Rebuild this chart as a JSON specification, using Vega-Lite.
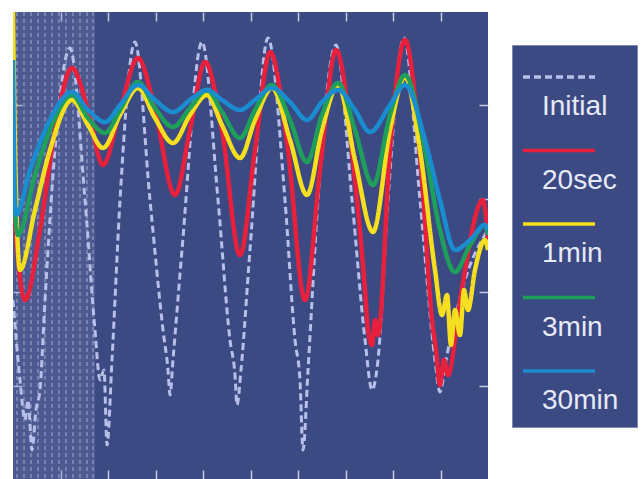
{
  "$schema": "https://vega.github.io/schema/vega-lite/v6.json",
  "width": 475,
  "height": 467,
  "autosize": "none",
  "padding": {"left": 13, "top": 12, "right": 153, "bottom": 0},
  "background": "white",
  "view": {"stroke": null, "fill": "#3c4a84"},
  "config": {
    "view": {"stroke": null, "fill": "#3c4a84"},
    "axis": {"domain": false, "labels": false, "title": null, "grid": false, "ticks": true, "tickSize": -9, "tickColor": "#c5cae6", "tickWidth": 1.5}
  },
  "datasets": {
    "hatchArea": [{"x0": 0, "x1": 1.73}],
    "hatchLines": [{"x": 0.084}, {"x": 0.232}, {"x": 0.379}, {"x": 0.526}, {"x": 0.674}, {"x": 0.821}, {"x": 0.968}, {"x": 1.116}, {"x": 1.263}, {"x": 1.411}, {"x": 1.558}, {"x": 1.684}],
    "legendLabels": [{"lab": "Initial"}, {"lab": "20sec"}, {"lab": "1min"}, {"lab": "3min"}, {"lab": "30min"}],
    "curves": [
      {"s": "Initial", "x": 0, "y": 1.916}, {"s": "Initial", "x": 0.147, "y": 1.06}, {"s": "Initial", "x": 0.253, "y": 0.632}, {"s": "Initial", "x": 0.316, "y": 0.846}, {"s": "Initial", "x": 0.4, "y": 0.31}, {"s": "Initial", "x": 0.484, "y": 0.739}, {"s": "Initial", "x": 0.568, "y": 0.953}, {"s": "Initial", "x": 0.674, "y": 1.916}, {"s": "Initial", "x": 0.884, "y": 3.522}, {"s": "Initial", "x": 1.2, "y": 4.615}, {"s": "Initial", "x": 1.516, "y": 2.987}, {"s": "Initial", "x": 1.726, "y": 1.595}, {"s": "Initial", "x": 1.832, "y": 1.06}, {"s": "Initial", "x": 1.916, "y": 1.167}, {"s": "Initial", "x": 1.979, "y": 0.364}, {"s": "Initial", "x": 2.084, "y": 1.274}, {"s": "Initial", "x": 2.253, "y": 2.987}, {"s": "Initial", "x": 2.568, "y": 4.679}, {"s": "Initial", "x": 2.884, "y": 2.987}, {"s": "Initial", "x": 3.158, "y": 1.595}, {"s": "Initial", "x": 3.263, "y": 1.167}, {"s": "Initial", "x": 3.305, "y": 0.899}, {"s": "Initial", "x": 3.368, "y": 1.274}, {"s": "Initial", "x": 3.558, "y": 2.452}, {"s": "Initial", "x": 3.979, "y": 4.679}, {"s": "Initial", "x": 4.316, "y": 2.987}, {"s": "Initial", "x": 4.568, "y": 1.488}, {"s": "Initial", "x": 4.674, "y": 1.113}, {"s": "Initial", "x": 4.716, "y": 0.792}, {"s": "Initial", "x": 4.8, "y": 1.167}, {"s": "Initial", "x": 4.989, "y": 2.452}, {"s": "Initial", "x": 5.368, "y": 4.722}, {"s": "Initial", "x": 5.726, "y": 2.987}, {"s": "Initial", "x": 5.937, "y": 1.488}, {"s": "Initial", "x": 6.042, "y": 1.06}, {"s": "Initial", "x": 6.105, "y": 0.31}, {"s": "Initial", "x": 6.211, "y": 1.167}, {"s": "Initial", "x": 6.421, "y": 2.987}, {"s": "Initial", "x": 6.8, "y": 4.647}, {"s": "Initial", "x": 7.137, "y": 2.987}, {"s": "Initial", "x": 7.411, "y": 1.488}, {"s": "Initial", "x": 7.558, "y": 0.953}, {"s": "Initial", "x": 7.684, "y": 1.274}, {"s": "Initial", "x": 7.895, "y": 2.987}, {"s": "Initial", "x": 8.232, "y": 4.722}, {"s": "Initial", "x": 8.568, "y": 2.987}, {"s": "Initial", "x": 8.884, "y": 1.274}, {"s": "Initial", "x": 8.989, "y": 0.931}, {"s": "Initial", "x": 9.116, "y": 1.274}, {"s": "Initial", "x": 9.516, "y": 2.131}, {"s": "Initial", "x": 10, "y": 2.666},

      {"s": "20sec", "x": 0, "y": 2.987}, {"s": "20sec", "x": 0.253, "y": 1.916}, {"s": "20sec", "x": 0.568, "y": 2.666}, {"s": "20sec", "x": 0.884, "y": 3.737}, {"s": "20sec", "x": 1.242, "y": 4.4}, {"s": "20sec", "x": 1.579, "y": 3.951}, {"s": "20sec", "x": 1.895, "y": 3.362}, {"s": "20sec", "x": 2.253, "y": 3.951}, {"s": "20sec", "x": 2.632, "y": 4.507}, {"s": "20sec", "x": 2.989, "y": 3.951}, {"s": "20sec", "x": 3.411, "y": 3.041}, {"s": "20sec", "x": 3.726, "y": 3.737}, {"s": "20sec", "x": 4.042, "y": 4.465}, {"s": "20sec", "x": 4.4, "y": 3.737}, {"s": "20sec", "x": 4.779, "y": 2.398}, {"s": "20sec", "x": 5.095, "y": 3.522}, {"s": "20sec", "x": 5.411, "y": 4.572}, {"s": "20sec", "x": 5.789, "y": 3.522}, {"s": "20sec", "x": 6.147, "y": 1.916}, {"s": "20sec", "x": 6.463, "y": 3.308}, {"s": "20sec", "x": 6.8, "y": 4.593}, {"s": "20sec", "x": 7.2, "y": 3.201}, {"s": "20sec", "x": 7.411, "y": 2.024}, {"s": "20sec", "x": 7.474, "y": 1.595}, {"s": "20sec", "x": 7.558, "y": 1.435}, {"s": "20sec", "x": 7.621, "y": 1.702}, {"s": "20sec", "x": 7.684, "y": 1.542}, {"s": "20sec", "x": 7.937, "y": 3.522}, {"s": "20sec", "x": 8.253, "y": 4.7}, {"s": "20sec", "x": 8.611, "y": 3.201}, {"s": "20sec", "x": 8.821, "y": 1.702}, {"s": "20sec", "x": 8.905, "y": 1.381}, {"s": "20sec", "x": 8.989, "y": 1.006}, {"s": "20sec", "x": 9.074, "y": 1.274}, {"s": "20sec", "x": 9.158, "y": 1.113}, {"s": "20sec", "x": 9.411, "y": 1.916}, {"s": "20sec", "x": 9.895, "y": 2.987}, {"s": "20sec", "x": 10, "y": 2.559},

      {"s": "1min", "x": 0, "y": 5.0}, {"s": "1min", "x": 0.042, "y": 3.522}, {"s": "1min", "x": 0.147, "y": 2.238}, {"s": "1min", "x": 0.463, "y": 2.88}, {"s": "1min", "x": 0.779, "y": 3.522}, {"s": "1min", "x": 1.242, "y": 4.058}, {"s": "1min", "x": 1.579, "y": 3.79}, {"s": "1min", "x": 1.895, "y": 3.544}, {"s": "1min", "x": 2.253, "y": 3.897}, {"s": "1min", "x": 2.632, "y": 4.186}, {"s": "1min", "x": 2.989, "y": 3.865}, {"s": "1min", "x": 3.368, "y": 3.597}, {"s": "1min", "x": 3.726, "y": 3.897}, {"s": "1min", "x": 4.084, "y": 4.111}, {"s": "1min", "x": 4.4, "y": 3.79}, {"s": "1min", "x": 4.779, "y": 3.437}, {"s": "1min", "x": 5.095, "y": 3.844}, {"s": "1min", "x": 5.453, "y": 4.186}, {"s": "1min", "x": 5.832, "y": 3.63}, {"s": "1min", "x": 6.189, "y": 3.041}, {"s": "1min", "x": 6.505, "y": 3.737}, {"s": "1min", "x": 6.842, "y": 4.218}, {"s": "1min", "x": 7.2, "y": 3.415}, {"s": "1min", "x": 7.579, "y": 2.645}, {"s": "1min", "x": 7.937, "y": 3.737}, {"s": "1min", "x": 8.253, "y": 4.304}, {"s": "1min", "x": 8.568, "y": 3.522}, {"s": "1min", "x": 8.884, "y": 2.238}, {"s": "1min", "x": 9.032, "y": 1.756}, {"s": "1min", "x": 9.137, "y": 1.97}, {"s": "1min", "x": 9.221, "y": 1.435}, {"s": "1min", "x": 9.305, "y": 1.809}, {"s": "1min", "x": 9.411, "y": 1.542}, {"s": "1min", "x": 9.495, "y": 2.024}, {"s": "1min", "x": 9.579, "y": 1.809}, {"s": "1min", "x": 9.726, "y": 2.238}, {"s": "1min", "x": 9.937, "y": 2.559}, {"s": "1min", "x": 10, "y": 2.452},

      {"s": "3min", "x": 0, "y": 3.201}, {"s": "3min", "x": 0.105, "y": 2.612}, {"s": "3min", "x": 0.463, "y": 3.255}, {"s": "3min", "x": 0.779, "y": 3.737}, {"s": "3min", "x": 1.242, "y": 4.111}, {"s": "3min", "x": 1.579, "y": 3.865}, {"s": "3min", "x": 1.937, "y": 3.704}, {"s": "3min", "x": 2.253, "y": 3.951}, {"s": "3min", "x": 2.632, "y": 4.251}, {"s": "3min", "x": 2.989, "y": 3.972}, {"s": "3min", "x": 3.368, "y": 3.769}, {"s": "3min", "x": 3.726, "y": 3.972}, {"s": "3min", "x": 4.084, "y": 4.165}, {"s": "3min", "x": 4.4, "y": 3.929}, {"s": "3min", "x": 4.779, "y": 3.651}, {"s": "3min", "x": 5.095, "y": 3.951}, {"s": "3min", "x": 5.453, "y": 4.218}, {"s": "3min", "x": 5.832, "y": 3.844}, {"s": "3min", "x": 6.189, "y": 3.394}, {"s": "3min", "x": 6.505, "y": 3.897}, {"s": "3min", "x": 6.842, "y": 4.24}, {"s": "3min", "x": 7.2, "y": 3.737}, {"s": "3min", "x": 7.579, "y": 3.148}, {"s": "3min", "x": 7.937, "y": 3.897}, {"s": "3min", "x": 8.253, "y": 4.325}, {"s": "3min", "x": 8.674, "y": 3.522}, {"s": "3min", "x": 8.989, "y": 2.666}, {"s": "3min", "x": 9.305, "y": 2.216}, {"s": "3min", "x": 9.621, "y": 2.505}, {"s": "3min", "x": 9.937, "y": 2.719}, {"s": "3min", "x": 10, "y": 2.612},

      {"s": "30min", "x": 0, "y": 4.486}, {"s": "30min", "x": 0.021, "y": 3.522}, {"s": "30min", "x": 0.063, "y": 2.827}, {"s": "30min", "x": 0.358, "y": 3.308}, {"s": "30min", "x": 0.779, "y": 3.844}, {"s": "30min", "x": 1.242, "y": 4.143}, {"s": "30min", "x": 1.579, "y": 3.951}, {"s": "30min", "x": 1.937, "y": 3.822}, {"s": "30min", "x": 2.253, "y": 4.004}, {"s": "30min", "x": 2.632, "y": 4.218}, {"s": "30min", "x": 2.989, "y": 4.058}, {"s": "30min", "x": 3.368, "y": 3.929}, {"s": "30min", "x": 3.726, "y": 4.058}, {"s": "30min", "x": 4.084, "y": 4.165}, {"s": "30min", "x": 4.4, "y": 4.058}, {"s": "30min", "x": 4.779, "y": 3.951}, {"s": "30min", "x": 5.095, "y": 4.058}, {"s": "30min", "x": 5.453, "y": 4.186}, {"s": "30min", "x": 5.832, "y": 4.036}, {"s": "30min", "x": 6.189, "y": 3.844}, {"s": "30min", "x": 6.505, "y": 4.036}, {"s": "30min", "x": 6.842, "y": 4.165}, {"s": "30min", "x": 7.2, "y": 3.951}, {"s": "30min", "x": 7.516, "y": 3.715}, {"s": "30min", "x": 7.937, "y": 4.004}, {"s": "30min", "x": 8.253, "y": 4.218}, {"s": "30min", "x": 8.674, "y": 3.63}, {"s": "30min", "x": 8.989, "y": 2.987}, {"s": "30min", "x": 9.305, "y": 2.452}, {"s": "30min", "x": 9.621, "y": 2.559}, {"s": "30min", "x": 9.937, "y": 2.719}, {"s": "30min", "x": 10, "y": 2.666}
    ]
  },
  "layer": [
    {
      "data": {"name": "hatchArea"},
      "mark": {"type": "rect", "color": "#7a86b4", "opacity": 0.28},
      "encoding": {
        "x": {"field": "x0", "type": "quantitative", "scale": {"domain": [0, 10], "nice": false, "zero": false}, "axis": {"orient": "bottom", "values": [1, 2, 3, 4, 5, 6, 7, 8, 9]}},
        "x2": {"field": "x1"}
      }
    },
    {
      "data": {"name": "hatchLines"},
      "mark": {"type": "rule", "color": "#c8cde8", "opacity": 0.35, "strokeWidth": 2, "strokeDash": [4, 3]},
      "encoding": {
        "x": {"field": "x", "type": "quantitative", "scale": {"domain": [0, 10], "nice": false, "zero": false}, "axis": {"orient": "top", "values": [1, 2, 3, 4, 5, 6, 7, 8, 9]}}
      }
    },
    {
      "data": {"name": "curves"},
      "transform": [{"filter": "datum.s === 'Initial'"}],
      "mark": {"type": "line", "strokeWidth": 3, "interpolate": "monotone", "clip": true},
      "encoding": {
        "x": {"field": "x", "type": "quantitative", "scale": {"domain": [0, 10], "nice": false, "zero": false}, "axis": null},
        "y": {"field": "y", "type": "quantitative", "scale": {"domain": [0, 5], "nice": false, "zero": false}, "axis": {"orient": "left", "values": [1, 2, 3, 4]}},
        "color": {"field": "s", "type": "nominal", "scale": {"domain": ["Initial", "20sec", "1min", "3min", "30min"], "range": ["#b8bfe8", "#e8203c", "#f5df1e", "#1ea05a", "#1a8cd0"]},
          "legend": {"title": " ", "titleOrient": "bottom", "titleFontSize": 14, "titlePadding": 10, "orient": "none", "legendX": 499, "legendY": 33, "padding": 18, "zindex": 1,
            "fillColor": "#3c4a84", "strokeColor": "#8088b0", "symbolType": "M-1.75,0H4.25", "symbolSize": 576, "symbolStrokeWidth": 3.5,
            "labelFont": "Liberation Sans", "labelFontSize": 28, "labelOpacity": 0, "labelBaseline": "middle",
            "labelOffset": -16, "rowPadding": 45.5, "labelLimit": 300}},
        "strokeDash": {"field": "s", "type": "nominal", "scale": {"domain": ["Initial", "20sec", "1min", "3min", "30min"], "range": [[7, 4], [1, 0], [1, 0], [1, 0], [1, 0]]},
          "legend": {"title": " "}}
      }
    },
    {
      "data": {"name": "curves"},
      "transform": [{"filter": "datum.s === '20sec'"}],
      "mark": {"type": "line", "strokeWidth": 4.5, "interpolate": "monotone", "clip": true},
      "encoding": {
        "x": {"field": "x", "type": "quantitative", "axis": null},
        "y": {"field": "y", "type": "quantitative", "axis": {"orient": "right", "values": [1, 2, 3, 4]}},
        "color": {"field": "s", "type": "nominal", "legend": {"title": " "}},
        "strokeDash": {"field": "s", "type": "nominal", "legend": {"title": " "}}
      }
    },
    {
      "data": {"name": "curves"},
      "transform": [{"filter": "datum.s === '1min'"}],
      "mark": {"type": "line", "strokeWidth": 4.5, "interpolate": "monotone", "clip": true},
      "encoding": {
        "x": {"field": "x", "type": "quantitative", "axis": null},
        "y": {"field": "y", "type": "quantitative", "axis": null},
        "color": {"field": "s", "type": "nominal", "legend": {"title": " "}},
        "strokeDash": {"field": "s", "type": "nominal", "legend": {"title": " "}}
      }
    },
    {
      "data": {"name": "curves"},
      "transform": [{"filter": "datum.s === '3min'"}],
      "mark": {"type": "line", "strokeWidth": 4.5, "interpolate": "monotone", "clip": true},
      "encoding": {
        "x": {"field": "x", "type": "quantitative", "axis": null},
        "y": {"field": "y", "type": "quantitative", "axis": null},
        "color": {"field": "s", "type": "nominal", "legend": {"title": " "}},
        "strokeDash": {"field": "s", "type": "nominal", "legend": {"title": " "}}
      }
    },
    {
      "data": {"name": "curves"},
      "transform": [{"filter": "datum.s === '30min'"}],
      "mark": {"type": "line", "strokeWidth": 4.5, "interpolate": "monotone", "clip": true},
      "encoding": {
        "x": {"field": "x", "type": "quantitative", "axis": null},
        "y": {"field": "y", "type": "quantitative", "axis": null},
        "color": {"field": "s", "type": "nominal", "legend": {"title": " "}},
        "strokeDash": {"field": "s", "type": "nominal", "legend": {"title": " "}}
      }
    },
    {
      "data": {"name": "legendLabels"},
      "mark": {"type": "point", "opacity": 0},
      "encoding": {
        "shape": {"field": "lab", "type": "nominal", "sort": null, "scale": {"range": ["M-1.75,0H4.25"]},
          "legend": {"title": null, "orient": "none", "legendX": 499, "legendY": 63, "padding": 18, "zindex": 3,
            "symbolSize": 576, "symbolOpacity": 0, "symbolStrokeWidth": 3.5,
            "labelFont": "Liberation Sans", "labelFontSize": 28, "labelColor": "#e6e9f6", "labelBaseline": "middle",
            "labelOffset": -16, "rowPadding": 45.5, "labelLimit": 300}}
      }
    }
  ],
  "resolve": {"axis": {"x": "independent", "y": "independent"}}
}
